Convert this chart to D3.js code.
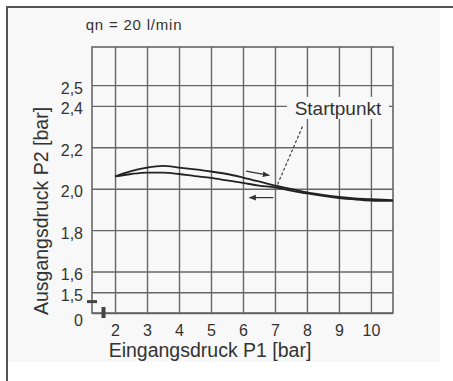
<!DOCTYPE html>
<html>
<head>
<meta charset="utf-8">
<script src="https://cdn.jsdelivr.net/npm/d3@7"></script>
<style>
  body { margin: 0; background: #fff; }
  svg text { font-family: "Liberation Sans", Arial, sans-serif; fill: #333; }
</style>
</head>
<body>
<div id="chart"></div>
<script>
// values
var p1 = [2, 2.5, 3, 3.5, 4, 4.5, 5, 5.5, 6, 6.5, 7, 7.5, 8, 8.5, 9, 9.5, 10, 10.69];
var p2Up = [2.059, 2.085, 2.102, 2.110, 2.102, 2.093, 2.083, 2.071, 2.054, 2.035, 2.015, 1.999, 1.982, 1.970, 1.960, 1.953, 1.949, 1.945];
var p2Down = [2.059, 2.071, 2.078, 2.078, 2.071, 2.061, 2.052, 2.040, 2.028, 2.015, 2.006, 1.991, 1.977, 1.965, 1.955, 1.948, 1.943, 1.941];

var xTicks = [2, 3, 4, 5, 6, 7, 8, 9, 10];
var yTicks = [1.4, 1.5, 1.6, 1.8, 2.0, 2.2, 2.4, 2.5];
var yBreak = 1.4; // shown as "0"

var width = 453, height = 381,
    margin = {top: 47, right: 60, bottom: 68, left: 92},
    w = width - margin.left - margin.right,
    h = height - margin.top - margin.bottom;

var svg = d3.select("#chart").append("svg")
    .attr("width", width)
    .attr("height", height);

// light panel + frame lines
svg.append("rect")
    .attr("x", 8).attr("y", 8)
    .attr("width", 432).attr("height", 354)
    .attr("fill", "#f8f8f8");
svg.append("path")
    .attr("d", "M7,381V7H453")
    .attr("fill", "none")
    .attr("stroke", "#555")
    .attr("stroke-width", 2);

svg.append("text")
    .attr("x", 134).attr("y", 25)
    .attr("dy", "0.35em")
    .attr("text-anchor", "middle")
    .style("font-size", "15px")
    .style("letter-spacing", "0.8px")
    .text("qn = 20 l/min");

var g = svg.append("g")
    .attr("transform", "translate(" + margin.left + "," + margin.top + ")");

var x = d3.scaleLinear().domain([1.28, 10.69]).range([0, w]);
var y = d3.scaleLinear().domain([1.4, 2.684]).range([h, 0]);

// grid via axes
var xAxis = d3.axisBottom(x)
    .tickValues(xTicks)
    .tickSizeInner(-h).tickSizeOuter(0)
    .tickPadding(12)
    .tickFormat(d3.format("d"));

var yAxis = d3.axisLeft(y)
    .tickValues(yTicks)
    .tickSizeInner(-w).tickSizeOuter(0)
    .tickPadding(9)
    .tickFormat(function(d) { return d === yBreak ? "0" : d3.format(".1f")(d).replace(".", ","); });

var gx = g.append("g")
    .attr("class", "x axis")
    .attr("transform", "translate(0," + h + ")")
    .call(xAxis);

var gy = g.append("g")
    .attr("class", "y axis")
    .call(yAxis);

g.selectAll(".axis .domain").remove();
g.selectAll(".axis line")
    .attr("stroke", "#666")
    .attr("stroke-width", 1.4);
g.selectAll(".axis text")
    .style("font-size", "16px")
    .attr("fill", "#444");
gy.selectAll("text")
    .attr("dy", function(d) { return d === yBreak ? "0.75em" : "0.5em"; });

// plot border
g.append("rect")
    .attr("width", w).attr("height", h)
    .attr("fill", "none")
    .attr("stroke", "#666")
    .attr("stroke-width", 1.6);

// axis break marks
g.append("line")
    .attr("x1", -5).attr("x2", 5)
    .attr("y1", y(1.455)).attr("y2", y(1.455))
    .attr("stroke", "#444").attr("stroke-width", 3);
g.append("line")
    .attr("x1", x(1.64)).attr("x2", x(1.64))
    .attr("y1", h - 6).attr("y2", h + 5)
    .attr("stroke", "#444").attr("stroke-width", 4);

// curves
var line = d3.line()
    .curve(d3.curveMonotoneX)
    .x(function(d) { return x(d[0]); })
    .y(function(d) { return y(d[1]); });

[p2Up, p2Down].forEach(function(s) {
  g.append("path")
      .datum(p1.map(function(v, i) { return [v, s[i]]; }))
      .attr("fill", "none")
      .attr("stroke", "#222")
      .attr("stroke-width", 1.8)
      .attr("d", line);
});

// direction arrows
svg.append("defs").append("marker")
    .attr("id", "head")
    .attr("viewBox", "0 0 10 10")
    .attr("refX", 9).attr("refY", 5)
    .attr("markerWidth", 6).attr("markerHeight", 6)
    .attr("orient", "auto")
  .append("path")
    .attr("d", "M0,1L10,5L0,9z")
    .attr("fill", "#333");

g.append("line")
    .attr("x1", x(6.1)).attr("y1", y(2.085))
    .attr("x2", x(6.82)).attr("y2", y(2.064))
    .attr("stroke", "#333").attr("stroke-width", 1.2)
    .attr("marker-end", "url(#head)");
g.append("line")
    .attr("x1", x(6.95)).attr("y1", y(1.957))
    .attr("x2", x(6.2)).attr("y2", y(1.957))
    .attr("stroke", "#333").attr("stroke-width", 1.2)
    .attr("marker-end", "url(#head)");

// Startpunkt annotation
g.append("line")
    .attr("x1", x(7.86)).attr("y1", y(2.3))
    .attr("x2", x(7.04)).attr("y2", y(2.006))
    .attr("stroke", "#444").attr("stroke-width", 1.2)
    .attr("stroke-dasharray", "3,2");

g.append("rect")
    .attr("x", x(8.97) - 51).attr("y", y(2.39) - 11)
    .attr("width", 102).attr("height", 22)
    .attr("fill", "#f8f8f8");
g.append("text")
    .attr("x", x(8.97)).attr("y", y(2.39))
    .attr("dy", "0.35em")
    .attr("text-anchor", "middle")
    .style("font-size", "19px")
    .text("Startpunkt");

// axis titles
svg.append("text")
    .attr("x", 210).attr("y", 350)
    .attr("dy", "0.35em")
    .attr("text-anchor", "middle")
    .style("font-size", "19.5px")
    .text("Eingangsdruck P1 [bar]");

svg.append("text")
    .attr("transform", "translate(41,211)rotate(-90)")
    .attr("dy", "0.35em")
    .attr("text-anchor", "middle")
    .style("font-size", "19.5px")
    .text("Ausgangsdruck P2 [bar]");
</script>
</body>
</html>
